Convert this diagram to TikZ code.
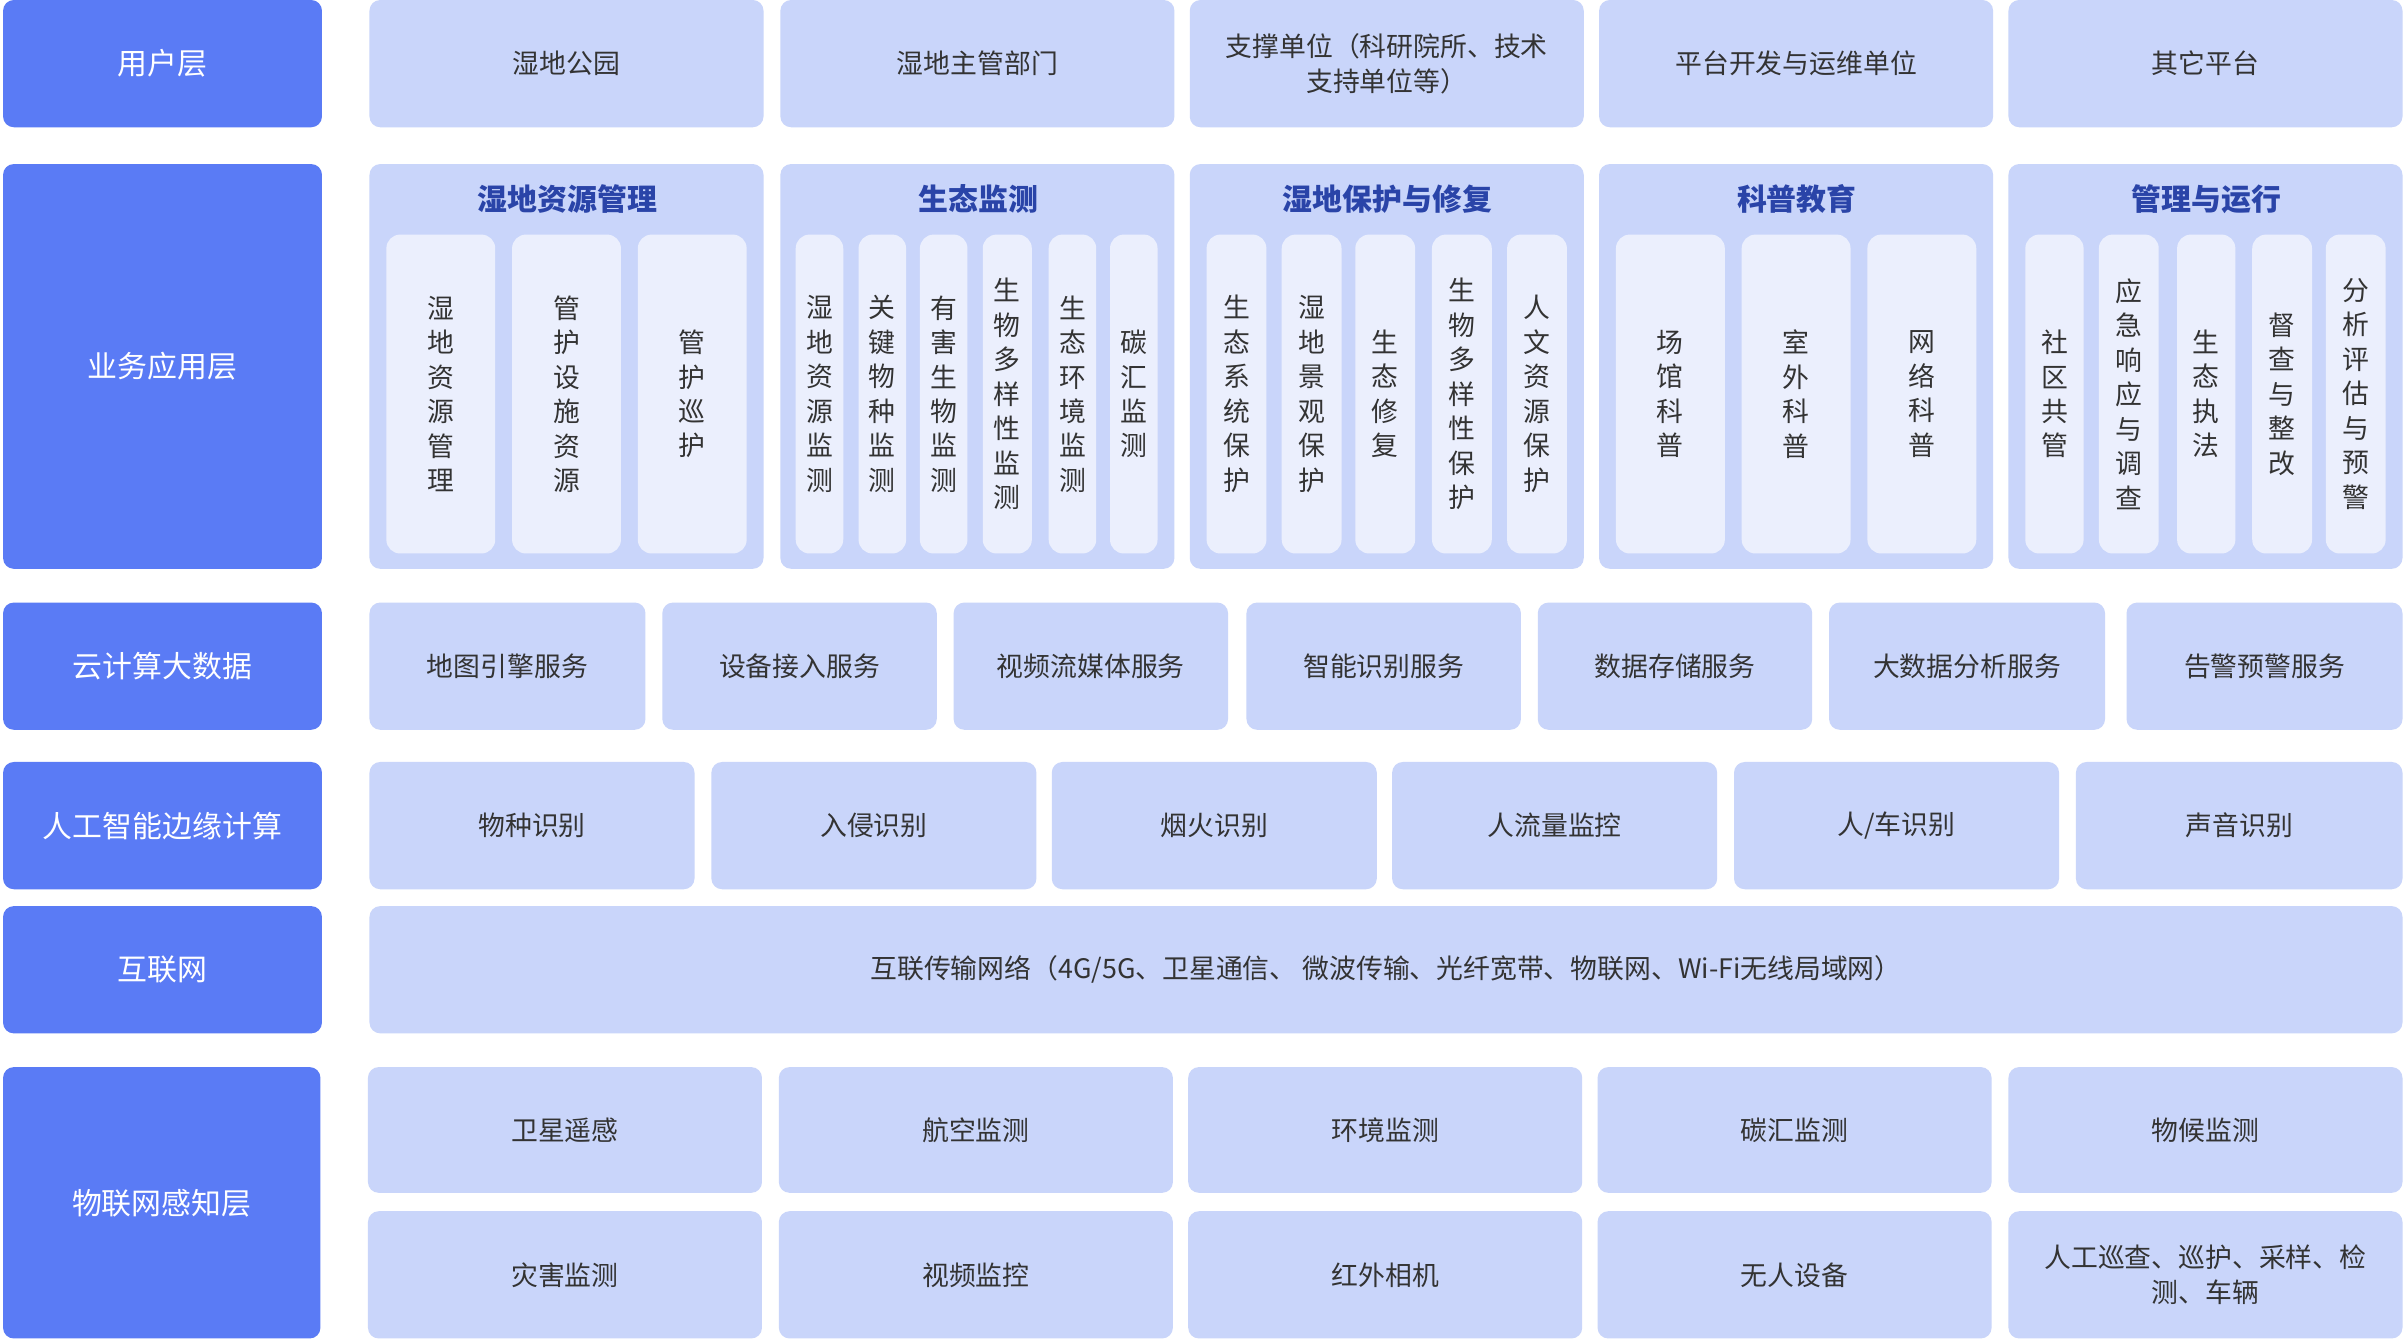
\documentclass[tikz,border=0pt]{standalone}
\usepackage{fontspec}
\setmainfont{Noto Sans CJK SC}
\definecolor{lb}{HTML}{5A7BF5}
\definecolor{bx}{HTML}{C9D5FA}
\definecolor{inn}{HTML}{EBEFFD}
\definecolor{tt}{HTML}{2A44A8}
\definecolor{tx}{HTML}{333333}
\newcommand\bx[7][box]{\node[#1,minimum width={(#5-#3)*1pt},minimum height={(#6-#4)*1pt}] (#2) at ({(#3+#5)/2},{(#4+#6)/2}) {#7};}
\begin{document}
\begin{tikzpicture}[x=1pt,y=-1pt,
 box/.style={fill=bx,rounded corners=7pt,inner sep=0pt,align=center,text=tx,font=\fontsize{17.5}{23}\selectfont},
 lft/.style={fill=lb,rounded corners=7pt,inner sep=0pt,align=center,text=white,font=\fontsize{19.5}{24}\selectfont},
 col/.style={fill=inn,rounded corners=9pt,inner sep=0pt,align=center,text=tx,font=\fontsize{17.5}{22.5}\selectfont},
 ttl/.style={text=tt,font=\fontsize{19.5}{24}\selectfont\bfseries,inner sep=0pt}]
\useasboundingbox[fill=white] (0,0) rectangle (1568,873);
% left column
\bx[lft]{L1}{2}{0}{210}{83}{用户层}
\bx[lft]{L2}{2}{107}{210}{371}{业务应用层}
\bx[lft]{L3}{2}{393}{210}{476}{云计算大数据}
\bx[lft]{L4}{2}{497}{210}{580}{人工智能边缘计算}
\bx[lft]{L5}{2}{591}{210}{674}{互联网}
\bx[lft]{L6}{2}{696}{209}{873}{物联网感知层}
% row 1
\bx{u1}{241}{0}{498}{83}{湿地公园}
\bx{u2}{509}{0}{766}{83}{湿地主管部门}
\bx{u3}{776}{0}{1033}{83}{支撑单位（科研院所、技术\\支持单位等）}
\bx{u4}{1043}{0}{1300}{83}{平台开发与运维单位}
\bx{u5}{1310}{0}{1567}{83}{其它平台}
% row 2 groups
\bx{g1}{241}{107}{498}{371}{}
\bx{g2}{509}{107}{766}{371}{}
\bx{g3}{776}{107}{1033}{371}{}
\bx{g4}{1043}{107}{1300}{371}{}
\bx{g5}{1310}{107}{1567}{371}{}
\node[ttl] (t1) at (370,130) {湿地资源管理};
\node[ttl] (t2) at (638,130) {生态监测};
\node[ttl] (t3) at (905,130) {湿地保护与修复};
\node[ttl] (t4) at (1172,130) {科普教育};
\node[ttl] (t5) at (1439,130) {管理与运行};
\bx[col]{a1}{252}{153}{323}{361}{湿\\地\\资\\源\\管\\理}
\bx[col]{a2}{334}{153}{405}{361}{管\\护\\设\\施\\资\\源}
\bx[col]{a3}{416}{153}{487}{361}{管\\护\\巡\\护}
\bx[col]{b1}{519}{153}{550}{361}{湿\\地\\资\\源\\监\\测}
\bx[col]{b2}{560}{153}{591}{361}{关\\键\\物\\种\\监\\测}
\bx[col]{b3}{600}{153}{631}{361}{有\\害\\生\\物\\监\\测}
\bx[col]{b4}{641}{153}{673}{361}{生\\物\\多\\样\\性\\监\\测}
\bx[col]{b5}{684}{153}{715}{361}{生\\态\\环\\境\\监\\测}
\bx[col]{b6}{724}{153}{755}{361}{碳\\汇\\监\\测}
\bx[col]{c1}{787}{153}{826}{361}{生\\态\\系\\统\\保\\护}
\bx[col]{c2}{836}{153}{875}{361}{湿\\地\\景\\观\\保\\护}
\bx[col]{c3}{884}{153}{923}{361}{生\\态\\修\\复}
\bx[col]{c4}{934}{153}{973}{361}{生\\物\\多\\样\\性\\保\\护}
\bx[col]{c5}{983}{153}{1022}{361}{人\\文\\资\\源\\保\\护}
\bx[col]{d1}{1054}{153}{1125}{361}{场\\馆\\科\\普}
\bx[col]{d2}{1136}{153}{1207}{361}{室\\外\\科\\普}
\bx[col]{d3}{1218}{153}{1289}{361}{网\\络\\科\\普}
\bx[col]{e1}{1321}{153}{1359}{361}{社\\区\\共\\管}
\bx[col]{e2}{1369}{153}{1408}{361}{应\\急\\响\\应\\与\\调\\查}
\bx[col]{e3}{1420}{153}{1458}{361}{生\\态\\执\\法}
\bx[col]{e4}{1469}{153}{1508}{361}{督\\查\\与\\整\\改}
\bx[col]{e5}{1517}{153}{1556}{361}{分\\析\\评\\估\\与\\预\\警}
% row 3
\bx{s1}{241}{393}{421}{476}{地图引擎服务}
\bx{s2}{432}{393}{611}{476}{设备接入服务}
\bx{s3}{622}{393}{801}{476}{视频流媒体服务}
\bx{s4}{813}{393}{992}{476}{智能识别服务}
\bx{s5}{1003}{393}{1182}{476}{数据存储服务}
\bx{s6}{1193}{393}{1373}{476}{大数据分析服务}
\bx{s7}{1387}{393}{1567}{476}{告警预警服务}
% row 4
\bx{r1}{241}{497}{453}{580}{物种识别}
\bx{r2}{464}{497}{676}{580}{入侵识别}
\bx{r3}{686}{497}{898}{580}{烟火识别}
\bx{r4}{908}{497}{1120}{580}{人流量监控}
\bx{r5}{1131}{497}{1343}{580}{人/车识别}
\bx{r6}{1354}{497}{1567}{580}{声音识别}
% row 5
\bx{net}{241}{591}{1567}{674}{互联传输网络（4G/5G、卫星通信、 微波传输、光纤宽带、物联网、Wi-Fi无线局域网）}
% row 6
\bx{p1}{240}{696}{497}{778}{卫星遥感}
\bx{p2}{508}{696}{765}{778}{航空监测}
\bx{p3}{775}{696}{1032}{778}{环境监测}
\bx{p4}{1042}{696}{1299}{778}{碳汇监测}
\bx{p5}{1310}{696}{1567}{778}{物候监测}
\bx{q1}{240}{790}{497}{873}{灾害监测}
\bx{q2}{508}{790}{765}{873}{视频监控}
\bx{q3}{775}{790}{1032}{873}{红外相机}
\bx{q4}{1042}{790}{1299}{873}{无人设备}
\bx{q5}{1310}{790}{1567}{873}{人工巡查、巡护、采样、检\\测、车辆}
\end{tikzpicture}
\end{document}
